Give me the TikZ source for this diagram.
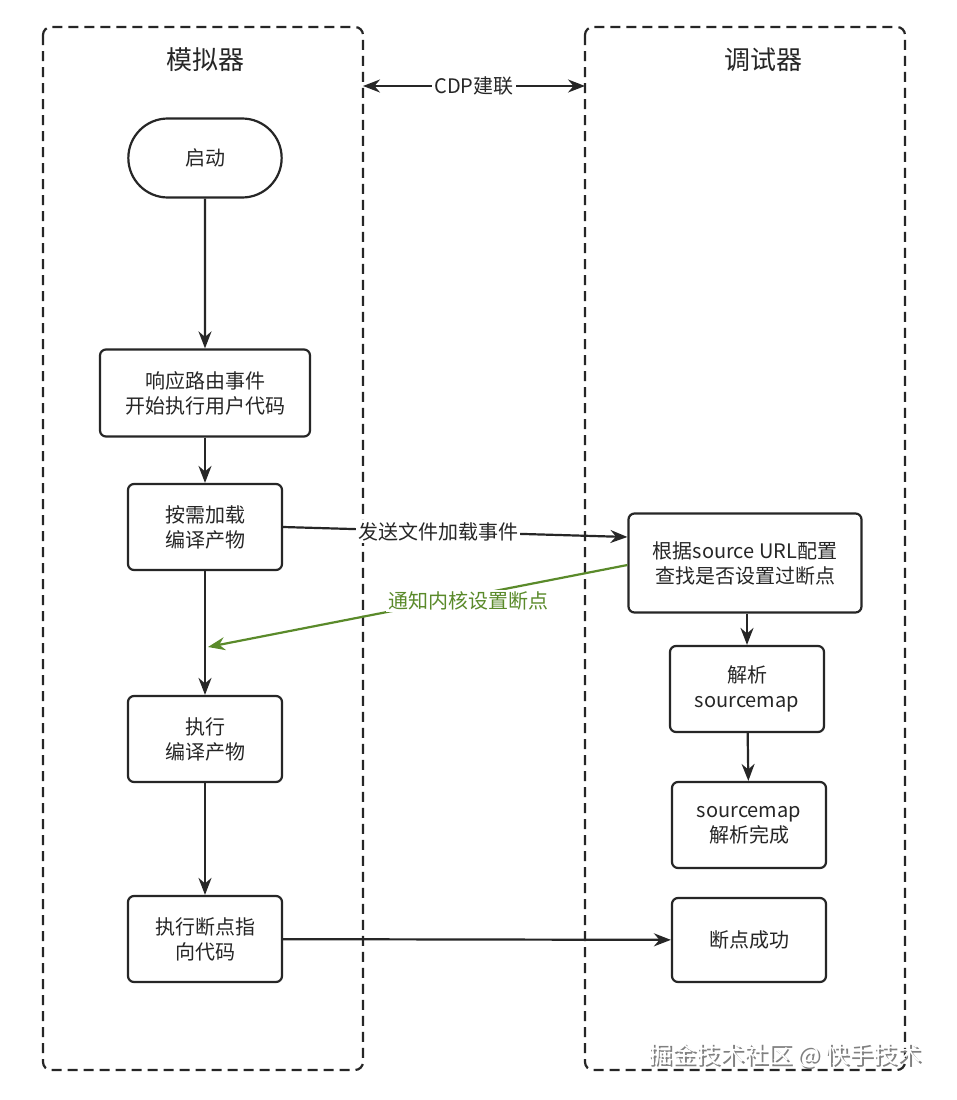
\documentclass[tikz,border=0pt]{standalone}
\usepackage{fontspec}
\setmainfont{Noto Sans CJK SC}
\usepackage{tikz}
\usetikzlibrary{positioning,shapes.misc,arrows.meta,calc}
\newcommand{\flowarrow}{-{Stealth[length=17pt,width=13pt]}}
\definecolor{ink}{HTML}{262626}
\definecolor{notegreen}{HTML}{5A8A2A}

\begin{document}
\begin{tikzpicture}[x=1pt,y=-1pt,line width=2.2pt,draw=ink,text=ink,
        lane/.style={draw,dash pattern=on 10pt off 6pt,rounded corners=8pt},
        stepbox/.style={draw,rounded corners=6pt,align=center,font=\fontsize{20}{25}\selectfont,inner sep=2pt},
        label text/.style={fill=white,inner sep=2pt,font=\fontsize{20}{24}\selectfont}]
    \useasboundingbox (0,0) rectangle (956,1100);
    \fill[white] (0,0) rectangle (956,1100);
    % lanes
    \draw[lane] (43,27) rectangle (363,1070);
    \draw[lane] (585,27) rectangle (905,1070);
    \node[font=\fontsize{26}{30}\selectfont] (simtitle) at (205,60) {模拟器};
    \node[font=\fontsize{26}{30}\selectfont] (dbgtitle) at (763,60) {调试器};
    \coordinate (cdpl) at (363,86);
    \coordinate (cdpr) at (585,86);
    \draw[{Stealth[length=17pt,width=13pt]}-{Stealth[length=17pt,width=13pt]}] (cdpl) -- node[label text] {CDP建联} (cdpr);
    % simulator side
    \node[draw,rounded rectangle,minimum width=160pt,minimum height=79pt,font=\fontsize{20}{24}\selectfont] (start) at (205,158) {启动};
    \node[stepbox,minimum width=210pt,minimum height=87pt] (route) at (205,393) {响应路由事件\\开始执行用户代码};
    \node[stepbox,minimum width=154pt,minimum height=86pt] (load) at (205,527) {按需加载\\编译产物};
    \node[stepbox,minimum width=154pt,minimum height=86pt] (run) at (205,739) {执行\\编译产物};
    \node[stepbox,minimum width=154pt,minimum height=86pt] (hit) at (205,939) {执行断点指\\向代码};
    % debugger side
    \node[stepbox,minimum width=233pt,minimum height=99pt] (lookup) at (745,563) {根据source URL配置\\查找是否设置过断点};
    \node[stepbox,minimum width=154pt,minimum height=86pt] (parse) at (747,689) {解析\\sourcemap};
    \node[stepbox,minimum width=154pt,minimum height=86pt] (parsed) at (749,825) {sourcemap\\解析完成};
    \node[stepbox,minimum width=154pt,minimum height=84pt] (done) at (749,940) {断点成功};
    % connectors
    \draw[\flowarrow] (start) -- (route);
    \draw[\flowarrow] (route) -- (load);
    \draw[\flowarrow] (load) -- (run);
    \draw[\flowarrow] (run) -- (hit);
    \draw[\flowarrow] (load.east) -- node[label text,pos=0.45] {发送文件加载事件} (lookup.west |- 0,537);
    \coordinate (notify) at (208,647);
    \draw[\flowarrow,notegreen] (lookup.west |- 0,565) -- node[label text,text=notegreen,pos=0.38,yshift=-5pt] {通知内核设置断点} (notify);
    \draw[\flowarrow] (lookup.south -| parse) -- (parse);
    \draw[\flowarrow] (parse) -- (parsed);
    \draw[\flowarrow] (hit) -- (done);
    % watermark
    \node[text=gray,font=\fontsize{24}{28}\selectfont] (markshadow) at (787,1057) {掘金技术社区 @ 快手技术};
    \node[text=white,font=\fontsize{24}{28}\selectfont] (mark) at (785,1055) {掘金技术社区 @ 快手技术};
\end{tikzpicture}
\end{document}
